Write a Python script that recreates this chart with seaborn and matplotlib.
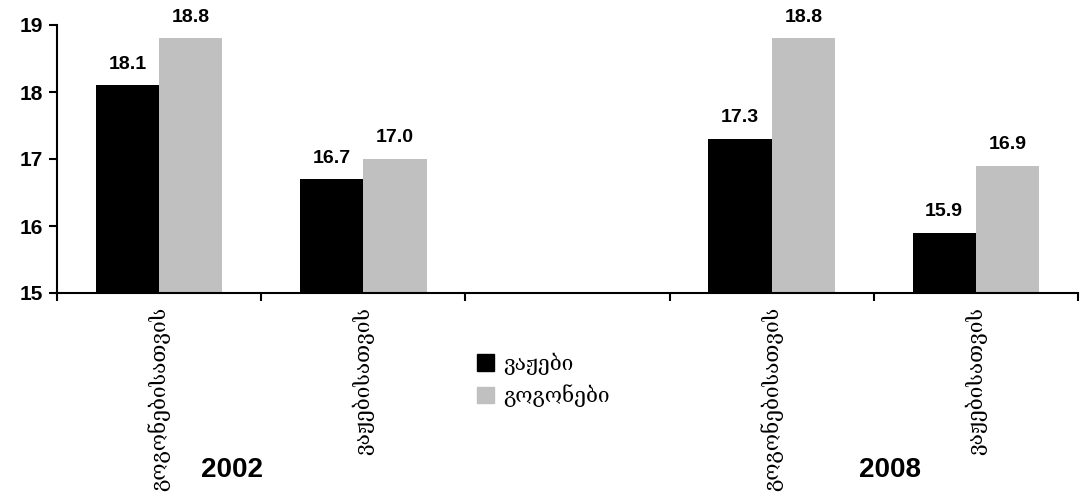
import matplotlib
matplotlib.use("Agg")
import matplotlib.pyplot as plt
import numpy as np
import pandas as pd
import seaborn as sns
from matplotlib.ticker import FixedLocator

# Datos
slots = ['g2002', 'b2002', 'gap', 'g2008', 'b2008']
slot_labels = ['გოგონებისათვის', 'ვაჟებისათვის', '', 'გოგონებისათვის', 'ვაჟებისათვის']
series = ['ვაჟები', 'გოგონები']
boys = [18.1, 16.7, 17.3, 15.9]
girls = [18.8, 17.0, 18.8, 16.9]
data_slots = ['g2002', 'b2002', 'g2008', 'b2008']
years = ['2002', '2008']

df = pd.DataFrame({
    'slot': data_slots * 2,
    'serie': [series[0]] * 4 + [series[1]] * 4,
    'valor': boys + girls,
})

sns.set_style("white")
plt.rcParams['font.family'] = ['Liberation Sans', 'DejaVu Sans']
plt.rcParams['text.color'] = 'black'
plt.rcParams['xtick.color'] = 'black'
plt.rcParams['ytick.color'] = 'black'
plt.rcParams['xtick.labelcolor'] = 'black'
plt.rcParams['ytick.labelcolor'] = 'black'

fig = plt.figure(figsize=(10.82, 4.93), dpi=100)
ax = fig.add_axes([57 / 1082, 1 - 293 / 493, 1021 / 1082, 268 / 493])

sns.barplot(data=df, x='slot', y='valor', hue='serie', order=slots, hue_order=series,
            palette=['#000000', '#C0C0C0'], width=0.62, saturation=1, ax=ax,
            errorbar=None, legend=False, linewidth=0)

ax.set_ylim(15, 19)
ax.set_xlim(-0.5, 4.5)
ax.set_yticks([15, 16, 17, 18, 19])
ax.set_yticklabels(['15', '16', '17', '18', '19'], fontsize=15, fontweight='bold')
ax.set_xticks(range(5))
ax.set_xticklabels(slot_labels, rotation=90, fontsize=15, family=['DejaVu Serif', 'DejaVu Sans'])
ax.xaxis.set_minor_locator(FixedLocator(np.arange(-0.5, 5, 1)))
ax.tick_params(axis='x', which='major', length=0, pad=10)
ax.tick_params(axis='x', which='minor', length=6, width=1.5, direction='out', bottom=True)
ax.tick_params(axis='y', length=6, width=1.5, direction='out', left=True, pad=4)
ax.set_xlabel('')
ax.set_ylabel('')

for side in ['top', 'right']:
    ax.spines[side].set_visible(False)
for side in ['left', 'bottom']:
    ax.spines[side].set_linewidth(1.5)
    ax.spines[side].set_color('black')

for cont in ax.containers:
    ax.bar_label(cont, fmt='%.1f', padding=9, fontsize=14, fontweight='bold', color='black')

# Leyenda
handles = [plt.Rectangle((0, 0), 1, 1, color=c) for c in ['#000000', '#C0C0C0']]
fig.legend(handles, series, loc='upper left', bbox_to_anchor=(458 / 1082, 1 - 334 / 493),
           frameon=False, handlelength=0.85, handleheight=0.85, handletextpad=0.4,
           labelspacing=0.45, prop={'family': ['DejaVu Serif', 'DejaVu Sans'], 'size': 15})

# Años
fig.text(232 / 1082, 1 - 470 / 493, years[0], ha='center', va='center', fontsize=20, fontweight='bold')
fig.text(890 / 1082, 1 - 470 / 493, years[1], ha='center', va='center', fontsize=20, fontweight='bold')

plt.savefig("out.png", dpi=100)
